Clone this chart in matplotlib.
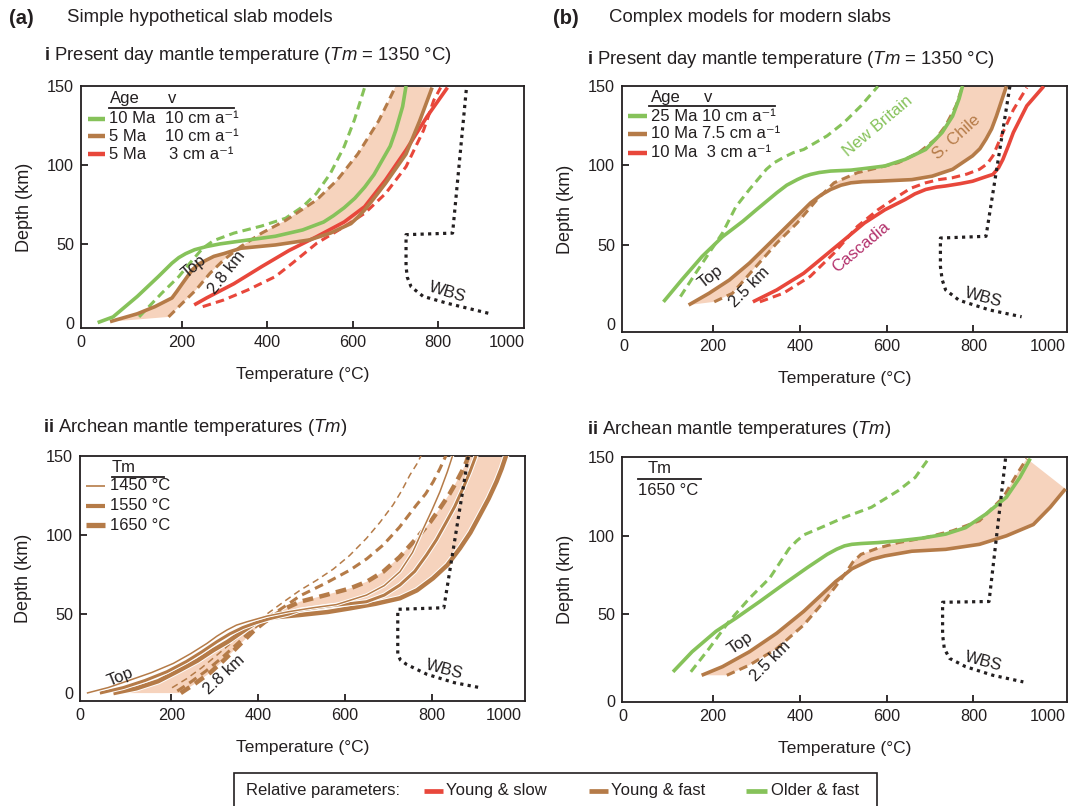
import matplotlib
matplotlib.use("Agg")
import matplotlib.pyplot as plt
from matplotlib.lines import Line2D
from matplotlib.patches import Rectangle
from matplotlib.transforms import ScaledTranslation
import matplotlib.patheffects as pe

plt.rcParams['font.family'] = ['Liberation Sans', 'DejaVu Sans']
plt.rcParams['mathtext.fontset'] = 'custom'
plt.rcParams['mathtext.rm'] = 'Liberation Sans'
plt.rcParams['mathtext.it'] = 'Liberation Sans:italic'
plt.rcParams['mathtext.bf'] = 'Liberation Sans:bold'

GREEN = '#86c25a'
BROWN = '#b57b48'
RED = '#e8473b'
FILL = '#f6d3bd'
DARK = '#231f20'
MAGENTA = '#b3306b'

# ---------------- (a) i : simple slabs, present-day mantle ----------------
ai_green_top_T = [3, 39, 96, 145, 177, 193, 209, 230, 258, 290, 338, 419, 483, 532, 555, 580, 605, 628, 650, 669, 688, 701, 717, 725]
ai_green_top_d = [0.4, 4, 17, 29.5, 38, 41.5, 44, 46.5, 48.5, 50.2, 52, 55, 59, 64, 68, 73, 79, 86, 94, 103, 112, 122, 137, 150]
ai_green_dash_T = [100, 153, 193, 225, 249, 274, 322, 387, 443, 483, 515, 548, 580, 604, 628]
ai_green_dash_d = [4, 19, 29.5, 40, 47.4, 52.2, 57, 61.5, 66.4, 73.7, 82, 94.8, 111.6, 128.5, 149]
ai_brown_top_T = [32, 96, 137, 177, 188, 201, 225, 240, 258, 275, 298, 338, 419, 499, 548, 596, 612, 628, 650, 677, 725, 757, 786]
ai_brown_top_d = [1, 6, 10.5, 16, 20, 25, 34, 37.5, 40, 42.3, 44, 47.4, 49.5, 52.7, 57, 63, 67, 71.6, 79, 88.5, 107, 128, 149]
ai_brown_dash_T = [169, 201, 233, 266, 298, 338, 387, 443, 516, 564, 612, 661, 685, 701]
ai_brown_dash_d = [4, 12.6, 21, 31.6, 40, 48.5, 57, 65, 78, 90.6, 107, 128, 141, 150]
ai_red_top_T = [229, 258, 322, 387, 451, 516, 580, 628, 677, 725, 774, 822]
ai_red_top_d = [11.6, 16, 25, 35.8, 46, 54.8, 64, 73.7, 90.6, 109.5, 130.6, 149]
ai_red_dash_T = [249, 298, 354, 419, 459, 516, 580, 628, 677, 725, 766, 790, 806]
ai_red_dash_d = [10.5, 14.7, 21, 29.5, 38, 50.6, 61, 69.5, 82, 99, 122, 141, 149]
ai_wbs_T = [866, 834, 725, 725, 728, 737, 765, 822, 918]
ai_wbs_d = [147.5, 57, 56, 36, 29, 23, 17, 12.6, 6.3]
ai_ages = ['10 Ma', '5 Ma', '5 Ma']
ai_speeds = ['10 cm a⁻¹', '10 cm a⁻¹', '3 cm a⁻¹']

# ---------------- (b) i : modern slabs, present-day mantle ----------------
bi_green_top_T = [86, 128, 175, 222, 269, 300, 347, 370, 394, 410, 425, 445, 471, 518, 549, 596, 643, 690, 728, 752, 767, 775]
bi_green_top_d = [14, 27.8, 42.6, 55, 64.8, 72, 82.7, 87.5, 91, 93, 94.3, 95.5, 96.4, 97, 98, 99.6, 103.8, 110, 120.7, 131, 142, 150]
bi_green_dash_T = [125, 160, 191, 222, 253, 284, 323, 340, 362, 385, 409, 463, 502, 541, 580]
bi_green_dash_d = [17.3, 32, 44.7, 57.4, 74, 84.8, 97.5, 101.5, 104.9, 108, 110, 118.6, 127, 137.5, 149.8]
bi_brown_top_T = [144, 191, 238, 284, 331, 378, 425, 450, 471, 495, 518, 545, 580, 658, 705, 752, 798, 815, 829, 842, 853, 876]
bi_brown_top_d = [12, 19.4, 27.8, 38.4, 51, 63.7, 76.4, 81.5, 84.8, 87.5, 89, 89.7, 90, 91, 93.2, 97.5, 106, 110.5, 116.5, 123, 131, 149.8]
bi_brown_dash_T = [203, 245, 292, 347, 394, 440, 479, 533, 580, 627, 674, 713, 736, 760, 775]
bi_brown_dash_d = [14, 19.4, 34, 51, 63.7, 78.5, 89, 95.4, 98.5, 101.7, 108, 116.5, 125, 137.5, 150]
bi_red_top_T = [292, 347, 409, 456, 502, 549, 596, 643, 665, 690, 715, 736, 770, 798, 825, 845, 858, 868, 880, 892, 923, 962]
bi_red_top_d = [14, 21.5, 32, 42.6, 53, 63.7, 72, 78.5, 82, 84.8, 86.3, 87, 88.5, 90, 92.5, 94.3, 98.5, 103.8, 112, 120.7, 137.5, 149.8]
bi_red_dash_T = [308, 362, 424, 479, 533, 580, 627, 655, 690, 720, 752, 785, 814, 832, 845, 868, 892, 923]
bi_red_dash_d = [14, 19.4, 30, 44.7, 61.6, 72, 80.6, 85.5, 89, 91, 92.2, 94.5, 97.5, 101, 106, 120.7, 135, 149]
bi_wbs_T = [884, 829, 724, 724, 728, 736, 767, 837, 911]
bi_wbs_d = [149.8, 55.3, 54.2, 36.3, 28, 21.5, 15, 8.9, 4.6]
bi_labels = ['25 Ma 10 cm a⁻¹', '10 Ma 7.5 cm a⁻¹', '10 Ma  3 cm a⁻¹']

# ---------------- (a) ii : simple slabs, Archean mantle ----------------
aii_tm = ['1450 °C', '1550 °C', '1650 °C']
aii_top_T = [
    [6, 55, 105, 155, 205, 245, 282, 305, 328, 350, 374, 420, 470, 527, 580, 649, 690, 726, 755, 780, 800, 818, 835, 848],
    [36, 90, 140, 190, 235, 270, 305, 335, 365, 395, 425, 470, 496, 560, 649, 690, 726, 760, 787, 810, 833, 852, 871, 887, 902],
    [67, 120, 170, 220, 260, 297, 330, 358, 383, 404, 440, 496, 560, 611, 670, 726, 765, 802, 835, 864, 888, 910, 930, 948, 960, 971],
]
aii_top_d = [
    [0, 3.5, 8.2, 13, 18.8, 25, 31.4, 36, 39.9, 43, 45.1, 48.7, 51.5, 54, 56, 62, 68, 76.8, 89, 104.2, 116, 127.4, 140, 151],
    [0, 3.5, 8, 13.5, 20, 26, 32.5, 37.5, 41.5, 44.5, 47, 50, 52.5, 55, 57.8, 62, 68.4, 77, 87.3, 97, 108.4, 118, 129.5, 140, 151],
    [0, 3, 7.5, 14.6, 20.5, 27.2, 32.5, 37.8, 42.5, 46.2, 48, 49.4, 51.3, 53.6, 56.5, 60, 65, 72.6, 81, 91.6, 101.5, 112.7, 123, 133.7, 142, 151],
]
aii_dash_T = [
    [202, 235, 270, 305, 335, 360, 380, 400, 430, 460, 496, 535, 573, 610, 649, 680, 710, 730, 749, 765, 776],
    [214, 245, 280, 315, 345, 370, 390, 410, 440, 470, 496, 555, 611, 650, 687.5, 725, 764, 785, 802.5, 818, 833],
    [222, 255, 290, 320, 345, 370, 392, 415, 445, 470, 496, 555, 611, 650, 687.5, 725, 764, 795, 818, 840, 856, 870, 879, 884],
]
aii_dash_d = [
    [3.4, 9, 16, 24, 31, 37, 42, 46, 52, 58, 65, 71.5, 78.5, 87, 97.9, 108, 119, 128, 138, 145, 151],
    [1.3, 7, 14, 22, 29.5, 36, 41, 45.5, 51, 56.5, 61.5, 69.5, 77.8, 85, 93.7, 105, 119, 126, 133.7, 142, 151],
    [0, 6, 13, 20.5, 27.2, 34, 40, 45, 50.5, 54.5, 57.8, 62, 66.2, 70.5, 76.8, 86, 97.9, 108, 116.9, 126, 133.7, 141, 146.4, 151],
]
aii_wbs_T = [883, 827, 721, 721, 727, 741, 788, 851, 911]
aii_wbs_d = [149.6, 54, 53, 24.6, 21, 18.2, 11.9, 6.6, 3.4]

# ---------------- (b) ii : modern slabs, Archean mantle ----------------
bii_green_top_T = [108, 152, 207, 253, 308, 362, 417, 463, 485, 503, 520, 541, 580, 627, 681, 736, 782, 829, 876, 907, 931]
bii_green_top_d = [13.2, 26, 39, 47.4, 58, 68.8, 79.5, 88, 91.3, 93.4, 94.4, 94.9, 95.5, 96.6, 98.3, 100.9, 105, 113.7, 124.4, 137, 149]
bii_green_dash_T = [149, 191, 237, 284, 331, 362, 375, 393, 410, 440, 502, 565, 627, 666, 697]
bii_green_dash_d = [13.2, 28, 45.3, 60, 73, 86, 91.5, 96.6, 100.5, 104, 111.5, 118, 128.6, 137, 149]
bii_brown_top_T = [174, 222, 284, 347, 409, 463, 483, 503, 520, 541, 565, 596, 658, 736, 814, 876, 938, 977, 1012]
bii_brown_top_d = [11, 16.5, 26, 37.8, 51.7, 65.6, 70.8, 75, 78.8, 81.6, 84.8, 87, 90, 91.2, 94.4, 99.8, 107, 118, 129.7]
bii_brown_dash_T = [232, 284, 347, 409, 456, 503, 522, 541, 580, 627, 690, 752, 814, 869, 900, 923]
bii_brown_dash_d = [11, 17.5, 28, 43, 58, 75, 83, 88, 92, 95.5, 98.7, 103, 109.4, 124.4, 139, 149]
bii_wbs_T = [874, 836, 729, 729, 733, 745, 782, 845, 915]
bii_wbs_d = [149, 58, 57.5, 36.8, 28, 21.8, 16.5, 11, 6.8]

legend_names = ['Young & slow', 'Young & fast', 'Older & fast']
legend_colors = [RED, BROWN, GREEN]

W, H = 1070, 806
fig = plt.figure(figsize=(W / 100, H / 100), dpi=100)


def px_axes(left, top, right, bottom):
    return fig.add_axes([left / W, 1 - bottom / H, (right - left) / W, (bottom - top) / H])


def nudge(label, dx, dy=0.0, ha=None):
    """Shift a tick label by (dx, dy) pixels."""
    if ha:
        label.set_horizontalalignment(ha)
    label.set_transform(label.get_transform() + ScaledTranslation(dx / 100, dy / 100, fig.dpi_scale_trans))


def style_axes(ax, xlim, ylim, first_dx=0.0, last_dx=0.0, y0_dy=0.0):
    ax.set_xlim(*xlim)
    ax.set_ylim(*ylim)
    ax.set_xticks([0, 200, 400, 600, 800, 1000])
    ax.set_yticks([0, 50, 100, 150])
    ax.tick_params(direction='in', length=5, width=1.3, labelsize=11.7, color=DARK,
                   labelcolor=DARK, pad=5)
    for s in ax.spines.values():
        s.set_linewidth(1.3)
        s.set_color(DARK)
    xt = ax.xaxis.get_major_ticks()
    yt = ax.yaxis.get_major_ticks()
    for t in (xt[0], xt[-1], yt[0], yt[-1]):
        t.tick1line.set_visible(False)
    # end labels sit against the frame
    nudge(xt[0].label1, first_dx)
    nudge(xt[-1].label1, last_dx, ha='right')
    if y0_dy:
        nudge(yt[0].label1, 0, y0_dy)
    ax.set_xlabel('Temperature (°C)', fontsize=12.5, labelpad=12, color=DARK)
    ax.set_ylabel('Depth (km)', fontsize=13, labelpad=10, color=DARK)


def solid(ax, T, d, color, lw=2.6, **kw):
    ax.plot(T, d, color=color, lw=lw, solid_capstyle='butt', solid_joinstyle='round', zorder=3, **kw)


def dashed(ax, T, d, color, lw=2.2, dash=(2.8, 1.7), **kw):
    ax.plot(T, d, color=color, lw=lw, linestyle=(0, dash), dash_capstyle='butt', zorder=3, **kw)


def band(ax, T1, d1, T2, d2):
    ax.fill(list(T1) + list(T2)[::-1], list(d1) + list(d2)[::-1], color=FILL, lw=0, zorder=1)


def wbs(ax, T, d):
    ax.plot(T, d, color=DARK, lw=2.3, linestyle=(0, (1.0, 1.35)), dash_capstyle='butt', zorder=4)


def note(ax, x, y, s, rot, color=DARK, size=12):
    ax.text(x, y, s, rotation=rot, rotation_mode='anchor', ha='center', va='center',
            fontsize=size, color=color, zorder=5)


# headings
fig.text(8.5 / W, 1 - 18 / H, '(a)', fontsize=14.5, fontweight='bold', va='center', color=DARK)
fig.text(67 / W, 1 - 18 / H, 'Simple hypothetical slab models', fontsize=13.4, va='center', color=DARK)
fig.text(553.5 / W, 1 - 18 / H, '(b)', fontsize=14.5, fontweight='bold', va='center', color=DARK)
fig.text(609 / W, 1 - 18 / H, 'Complex models for modern slabs', fontsize=13.4, va='center', color=DARK)
title_i = r'$\mathbf{i}$ Present day mantle temperature ($\mathit{Tm}$ = 1350 °C)'
title_ii = r'$\mathbf{ii}$ Archean mantle temperatures ($\mathit{Tm}$)'
fig.text(44 / W, 1 - 56 / H, title_i, fontsize=13.3, va='center', color=DARK)
fig.text(587 / W, 1 - 59 / H, title_i, fontsize=13.3, va='center', color=DARK)
fig.text(43 / W, 1 - 428 / H, title_ii, fontsize=13.3, va='center', color=DARK)
fig.text(587 / W, 1 - 429 / H, title_ii, fontsize=13.3, va='center', color=DARK)

# ---- (a) i
ax = px_axes(81, 86, 523.5, 328)
style_axes(ax, (-36, 1000), (-3, 150), first_dx=-15.5, last_dx=1.0)
band(ax, ai_brown_top_T, ai_brown_top_d, ai_brown_dash_T, ai_brown_dash_d)
dashed(ax, ai_green_dash_T, ai_green_dash_d, GREEN)
dashed(ax, ai_brown_dash_T, ai_brown_dash_d, BROWN)
dashed(ax, ai_red_dash_T, ai_red_dash_d, RED)
solid(ax, ai_red_top_T, ai_red_top_d, RED)
solid(ax, ai_brown_top_T, ai_brown_top_d, BROWN)
solid(ax, ai_green_top_T, ai_green_top_d, GREEN)
wbs(ax, ai_wbs_T, ai_wbs_d)
note(ax, 228, 35.6, 'Top', 40)
note(ax, 306, 31.8, '2.8 km', 52)
note(ax, 821, 19.8, 'WBS', -17)
ax.text(0.066, 0.950, 'Age', transform=ax.transAxes, fontsize=12, va='center', color=DARK)
ax.text(0.206, 0.950, 'v', transform=ax.transAxes, fontsize=12, va='center', ha='center', color=DARK)
ax.plot([0.064, 0.346], [0.909, 0.909], transform=ax.transAxes, color=DARK, lw=1.3)
for fy, c, age, sp, sx in zip([0.864, 0.793, 0.719], [GREEN, BROWN, RED], ai_ages, ai_speeds,
                               [0.190, 0.190, 0.198]):
    ax.plot([0.015, 0.054], [fy, fy], transform=ax.transAxes, color=c, lw=3.2, solid_capstyle='butt')
    ax.text(0.064, fy, age, transform=ax.transAxes, fontsize=12, va='center', color=DARK)
    ax.text(sx, fy, sp, transform=ax.transAxes, fontsize=12, va='center', color=DARK)

# ---- (b) i
ax = px_axes(622, 86, 1067, 332)
style_axes(ax, (-9.5, 1015.6), (-5, 150), first_dx=-2, last_dx=5.5)
band(ax, bi_brown_top_T, bi_brown_top_d, bi_brown_dash_T, bi_brown_dash_d)
dashed(ax, bi_green_dash_T, bi_green_dash_d, GREEN)
dashed(ax, bi_brown_dash_T, bi_brown_dash_d, BROWN)
dashed(ax, bi_red_dash_T, bi_red_dash_d, RED)
solid(ax, bi_red_top_T, bi_red_top_d, RED)
solid(ax, bi_brown_top_T, bi_brown_top_d, BROWN)
solid(ax, bi_green_top_T, bi_green_top_d, GREEN)
wbs(ax, bi_wbs_T, bi_wbs_d)
note(ax, 579, 124.7, 'New Britain', 40, GREEN)
note(ax, 762, 117.7, 'S. Chile', 42, BROWN)
note(ax, 542, 48.7, 'Cascadia', 40, MAGENTA)
note(ax, 194, 29.7, 'Top', 38)
note(ax, 285, 23.4, '2.5 km', 45)
note(ax, 822, 17, 'WBS', -15)
ax.text(0.066, 0.955, 'Age', transform=ax.transAxes, fontsize=12, va='center', color=DARK)
ax.text(0.194, 0.955, 'v', transform=ax.transAxes, fontsize=12, va='center', ha='center', color=DARK)
ax.plot([0.0615, 0.344], [0.919, 0.919], transform=ax.transAxes, color=DARK, lw=1.3)
for fy, c, lab in zip([0.878, 0.805, 0.728], [GREEN, BROWN, RED], bi_labels):
    ax.plot([0.0137, 0.057], [fy, fy], transform=ax.transAxes, color=c, lw=3.2, solid_capstyle='butt')
    ax.text(0.066, fy, lab, transform=ax.transAxes, fontsize=12, va='center', color=DARK)

# ---- (a) ii
ax = px_axes(80, 456, 525, 701)
style_axes(ax, (-9.7, 1013.6), (-5, 150), first_dx=-4, last_dx=2.5)
band(ax, aii_top_T[2], aii_top_d[2], aii_dash_T[2], aii_dash_d[2])
widths = [1.1, 2.2, 3.2]
dash_styles = [(4.3, 2.9), (2.9, 1.8), (2.4, 1.45)]
halo = lambda w: [pe.withStroke(linewidth=w + 1.4, foreground='white')]
for k in (2, 1, 0):
    dashed(ax, aii_dash_T[k], aii_dash_d[k], BROWN, lw=widths[k], dash=dash_styles[k])
for k in (2, 1, 0):
    solid(ax, aii_top_T[k], aii_top_d[k], BROWN, lw=widths[k], path_effects=halo(widths[k]))
wbs(ax, aii_wbs_T, aii_wbs_d)
note(ax, 83, 10, 'Top', 22)
note(ax, 322, 11.4, '2.8 km', 43)
note(ax, 829, 15.2, 'WBS', -15)
ax.text(0.099, 0.955, 'Tm', transform=ax.transAxes, fontsize=12, va='center', ha='center', color=DARK)
ax.plot([0.072, 0.188], [0.914, 0.914], transform=ax.transAxes, color=DARK, lw=1.3)
for fy, w, lab in zip([0.878, 0.796, 0.718], [1.2, 3.0, 3.8], aii_tm):
    ax.plot([0.0135, 0.056], [fy, fy], transform=ax.transAxes, color=BROWN, lw=w, solid_capstyle='butt')
    ax.text(0.067, fy, lab, transform=ax.transAxes, fontsize=12, va='center', color=DARK)

# ---- (b) ii
ax = px_axes(622, 457, 1067, 702)
style_axes(ax, (-9.5, 1015.6), (-6, 150), first_dx=-3, last_dx=5.5, y0_dy=-8)
band(ax, bii_brown_top_T, bii_brown_top_d, bii_brown_dash_T, bii_brown_dash_d)
dashed(ax, bii_green_dash_T, bii_green_dash_d, GREEN)
dashed(ax, bii_brown_dash_T, bii_brown_dash_d, BROWN)
solid(ax, bii_brown_top_T, bii_brown_top_d, BROWN)
solid(ax, bii_green_top_T, bii_green_top_d, GREEN)
wbs(ax, bii_wbs_T, bii_wbs_d)
note(ax, 264, 31.2, 'Top', 35)
note(ax, 332, 19.7, '2.5 km', 45)
note(ax, 822, 19.7, 'WBS', -15)
ax.text(0.085, 0.955, 'Tm', transform=ax.transAxes, fontsize=12, va='center', ha='center', color=DARK)
ax.plot([0.036, 0.177], [0.91, 0.91], transform=ax.transAxes, color=DARK, lw=1.3)
ax.text(0.104, 0.865, '1650 °C', transform=ax.transAxes, fontsize=12, va='center', ha='center', color=DARK)

# ---- shared key at the bottom
fig.patches.append(Rectangle((233.5 / W, -0.01), (877 - 233.5) / W, 1 - 773 / H + 0.01,
                             transform=fig.transFigure, fill=False, edgecolor=DARK, lw=1.2))
ky = 1 - 790.5 / H
fig.text(246.5 / W, ky, 'Relative parameters:', fontsize=12, va='center', color=DARK)
for (x0, x1, tx), c, name in zip([(424, 443, 446), (588.5, 608, 611), (746, 767, 771)],
                                 legend_colors, legend_names):
    fig.lines.append(Line2D([x0 / W, x1 / W], [ky, ky], transform=fig.transFigure, color=c,
                            lw=3.4, solid_capstyle='butt'))
    fig.text(tx / W, ky, name, fontsize=12, va='center', color=DARK)

fig.savefig('out.png', dpi=100)
